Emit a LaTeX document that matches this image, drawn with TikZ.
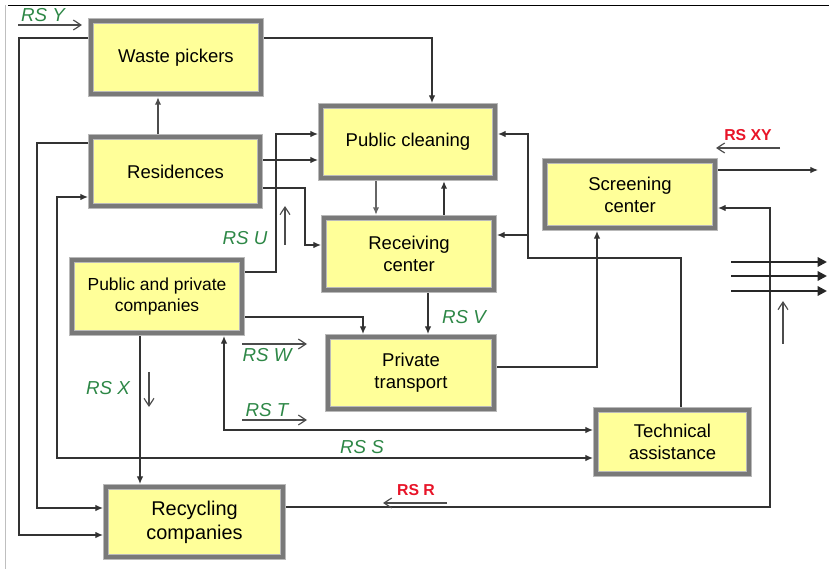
\documentclass[tikz,border=0pt]{standalone}
\usepackage{fontspec}
\setmainfont{Liberation Sans}
\usetikzlibrary{arrows.meta}
\definecolor{boxyellow}{RGB}{255,255,153}
\definecolor{rsgreen}{RGB}{45,135,70}
\definecolor{rsred}{RGB}{232,20,40}

\begin{document}
\begin{tikzpicture}[x=0.03cm,y=-0.03cm,
	box/.style={draw=gray!55,double=gray!95!black,double distance=3.6pt,line width=0.6pt,fill=boxyellow,align=center,inner sep=0pt,outer sep=2.4pt,font=\fontsize{15.8}{18.7}\selectfont},
	link/.style={draw=black!80,line width=0.9pt},
	flow/.style={link,-{Latex[length=6.5pt,width=5.5pt]}},
	flowboth/.style={link,{Latex[length=6.5pt,width=5.5pt]}-{Latex[length=6.5pt,width=5.5pt]}},
	rs/.style={text=rsgreen,font=\fontsize{16}{18}\selectfont\itshape},
	rsbold/.style={text=rsred,font=\fontsize{13.5}{16}\selectfont\bfseries},
	rsarrow/.style={draw=black!70,line width=1pt,-{Straight Barb[length=6.5pt,width=8.5pt]}},
	exitarrow/.style={draw=black!85,line width=1.8pt,-{Triangle[length=8pt,width=8pt]}}]
	\useasboundingbox (0,0) rectangle (829,569);
	\draw[black] (8,5) -- (829,5);
	\draw[gray!50] (5,5) -- (5,569);

	\node[box,minimum width=5.115cm,minimum height=2.205cm] (waste) at (176,57.5) {Waste pickers};
	\node[box,minimum width=5.085cm,minimum height=2.085cm] (res) at (175.5,171.5) {Residences};
	\node[box,minimum width=5.235cm,minimum height=2.175cm] (clean) at (408,142) {Public cleaning};
	\node[box,minimum width=5.115cm,minimum height=2.175cm] (recv) at (409,254) {Receiving\\center};
	\node[box,minimum width=5.115cm,minimum height=2.025cm] (screen) at (630,194.5) {Screening\\center};
	\node[box,minimum width=5.115cm,minimum height=2.205cm,font=\fontsize{14.9}{17.9}\selectfont] (comp) at (157,296.5) {Public and private\\companies};
	\node[box,minimum width=4.995cm,minimum height=2.175cm] (transp) at (411,373) {Private\\transport};
	\node[box,minimum width=4.605cm,minimum height=1.935cm] (tech) at (672.5,442) {Technical\\assistance};
	\node[box,minimum width=5.325cm,minimum height=2.115cm,font=\fontsize{17}{20.4}\selectfont] (recyc) at (194.5,522) {Recycling\\companies};

	\draw[flow,line width=1.8pt,draw=black!70] (res.north -| 158,0) -- (waste.south -| 158,0);
	\draw[flow] (waste.east |- 0,38) -| (clean.north -| 432,0);
	\draw[flow] (waste.west |- 0,38) -| (19,535) -- (recyc.west |- 0,535);
	\draw[flow] (res.west |- 0,143) -| (37,508) -- (recyc.west |- 0,508);
	\draw[flowboth] (res.west |- 0,197) -| (57,458) -- (tech.west |- 0,458);
	\draw[flow] (comp.east |- 0,272) -| (276,134) -- (clean.west |- 0,134);
	\draw[flow] (res.east |- 0,160) -- (clean.west |- 0,160);
	\draw[flow] (res.east |- 0,188) -| (305,245) -- (recv.west |- 0,245);
	\draw[flow,line width=1.8pt,draw=black!60] (clean.south -| 376,0) -- (recv.north -| 376,0);
	\draw[flow,line width=1.3pt] (recv.north -| 444,0) -- (clean.south -| 444,0);
	\draw[flow] (tech.north -| 681,0) |- (528,258) |- (clean.east |- 0,134);
	\coordinate (branch) at (528,235);
	\draw[flow] (branch) -- (recv.east |- branch);
	\draw[flow] (recv.south -| 428,0) -- (transp.north -| 428,0);
	\draw[flow] (comp.east |- 0,317) -| (transp.north -| 363,0);
	\draw[flow] (transp.east |- 0,367) -| (screen.south -| 597,0);
	\coordinate (exit) at (818,170);
	\draw[flow] (screen.east |- exit) -- (exit);
	\draw[flow] (recyc.east |- 0,507) -| (770,208) -- (screen.east |- 0,208);
	\draw[flow] (comp.south -| 140,0) -- (recyc.north -| 140,0);
	\draw[flowboth] (comp.south -| 224,0) |- (tech.west |- 0,430);
	\foreach \y in {262,276,291}
	\draw[exitarrow] (731,\y) -- (827,\y);

	\node[rs] (rsY) at (43,15) {RS Y};
	\node[rsbold] (rsXY) at (748,135) {RS XY};
	\node[rs] (rsU) at (245,238) {RS U};
	\node[rs] (rsV) at (464,317) {RS V};
	\node[rs] (rsW) at (267,355) {RS W};
	\node[rs] (rsX) at (108,388) {RS X};
	\node[rs] (rsT) at (267,410) {RS T};
	\node[rs] (rsS) at (362,447) {RS S};
	\node[rsbold] (rsR) at (416,490) {RS R};
	\draw[rsarrow] (18,25) -- (82,25);
	\draw[rsarrow] (780,148) -- (716,148);
	\draw[rsarrow] (285,245) -- (285,206);
	\draw[rsarrow] (242,344) -- (307,344);
	\draw[rsarrow] (149,372) -- (149,407);
	\draw[rsarrow] (242,420) -- (307,420);
	\draw[rsarrow] (447,503) -- (383,503);
	\draw[rsarrow] (783,344) -- (783,301);
\end{tikzpicture}
\end{document}
